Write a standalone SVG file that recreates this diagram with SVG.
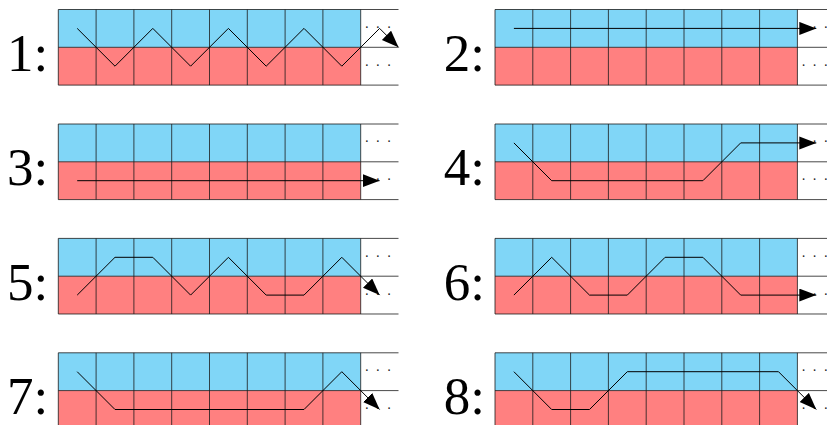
<svg xmlns="http://www.w3.org/2000/svg" xmlns:xlink="http://www.w3.org/1999/xlink" width="827" height="425" viewBox="0 0 827 425">
<style>
.blue{fill:#80D6F7}
.red{fill:#FF8080}
.gl{stroke:#1a1a1a;stroke-width:0.8;fill:none}
.lbl{font-family:"Liberation Serif","DejaVu Serif",serif;font-size:53px;fill:#000;text-anchor:end}
.dots{font-family:"Liberation Serif","DejaVu Serif",serif;font-size:14px;fill:#222}
.path{stroke:#000;stroke-width:1;fill:none;marker-end:url(#ah);stroke-linejoin:miter}
</style>
<defs>
<marker id="ah" markerUnits="userSpaceOnUse" markerWidth="20" markerHeight="16" refX="17" refY="6.5" orient="auto">
<path d="M0,0 L17,6.5 L0,13 z" fill="#000"/>
</marker>
<g id="grid">
<rect class="blue" x="0" y="0" width="302.4" height="37.8"/>
<rect class="red" x="0" y="37.8" width="302.4" height="37.8"/>
<path class="gl" d="M0,0H340.2M0,37.8H340.2M0,75.6H340.2M0,0V75.6M37.8,0V75.6M75.6,0V75.6M113.4,0V75.6M151.2,0V75.6M189,0V75.6M226.8,0V75.6M264.6,0V75.6M302.4,0V75.6"/>
</g>
</defs>
<rect width="827" height="425" fill="#fff"/>
<g id="panel1" transform="translate(58.3,9.5)">
<use xlink:href="#grid"/>
<text class="lbl" x="-10" y="61.2">1:</text>
<text class="dots" x="306.2 317.3 328.4" y="22.4">···</text>
<text class="dots" x="306.2 317.3 328.4" y="60.2">···</text>
</g>
<g id="panel2" transform="translate(495,9.5)">
<use xlink:href="#grid"/>
<text class="lbl" x="-10" y="61.2">2:</text>
<text class="dots" x="306.2 317.3 328.4" y="22.4">···</text>
<text class="dots" x="306.2 317.3 328.4" y="60.2">···</text>
</g>
<g id="panel3" transform="translate(58.3,124)">
<use xlink:href="#grid"/>
<text class="lbl" x="-10" y="61.2">3:</text>
<text class="dots" x="306.2 317.3 328.4" y="22.4">···</text>
<text class="dots" x="306.2 317.3 328.4" y="60.2">···</text>
</g>
<g id="panel4" transform="translate(495,124)">
<use xlink:href="#grid"/>
<text class="lbl" x="-10" y="61.2">4:</text>
<text class="dots" x="306.2 317.3 328.4" y="22.4">···</text>
<text class="dots" x="306.2 317.3 328.4" y="60.2">···</text>
</g>
<g id="panel5" transform="translate(58.3,238.4)">
<use xlink:href="#grid"/>
<text class="lbl" x="-10" y="61.2">5:</text>
<text class="dots" x="306.2 317.3 328.4" y="22.4">···</text>
<text class="dots" x="306.2 317.3 328.4" y="60.2">···</text>
</g>
<g id="panel6" transform="translate(495,238.4)">
<use xlink:href="#grid"/>
<text class="lbl" x="-10" y="61.2">6:</text>
<text class="dots" x="306.2 317.3 328.4" y="22.4">···</text>
<text class="dots" x="306.2 317.3 328.4" y="60.2">···</text>
</g>
<g id="panel7" transform="translate(58.3,352.8)">
<use xlink:href="#grid"/>
<text class="lbl" x="-10" y="61.2">7:</text>
<text class="dots" x="306.2 317.3 328.4" y="22.4">···</text>
<text class="dots" x="306.2 317.3 328.4" y="60.2">···</text>
</g>
<g id="panel8" transform="translate(495,352.8)">
<use xlink:href="#grid"/>
<text class="lbl" x="-10" y="61.2">8:</text>
<text class="dots" x="306.2 317.3 328.4" y="22.4">···</text>
<text class="dots" x="306.2 317.3 328.4" y="60.2">···</text>
</g>
<g id="connectors">
<path class="path" d="M77.2,28.4 L115,66.2 L152.8,28.4 L190.6,66.2 L228.4,28.4 L266.2,66.2 L304,28.4 L341.8,66.2 L379.6,28.4 L398.5,47.3"/>
<path class="path" d="M513.9,28.4 L816.3,28.4"/>
<path class="path" d="M77.2,180.7 L379.6,180.7"/>
<path class="path" d="M513.9,142.9 L551.7,180.7 L702.9,180.7 L740.7,142.9 L816.3,142.9"/>
<path class="path" d="M77.2,295.1 L115,257.3 L152.8,257.3 L190.6,295.1 L228.4,257.3 L266.2,295.1 L304,295.1 L341.8,257.3 L379.6,295.1"/>
<path class="path" d="M513.9,295.1 L551.7,257.3 L589.5,295.1 L627.3,295.1 L665.1,257.3 L702.9,257.3 L740.7,295.1 L816.3,295.1"/>
<path class="path" d="M77.2,371.7 L115,409.5 L304,409.5 L341.8,371.7 L379.6,409.5"/>
<path class="path" d="M513.9,371.7 L551.7,409.5 L589.5,409.5 L627.3,371.7 L778.5,371.7 L816.3,409.5"/>
</g>
</svg>
